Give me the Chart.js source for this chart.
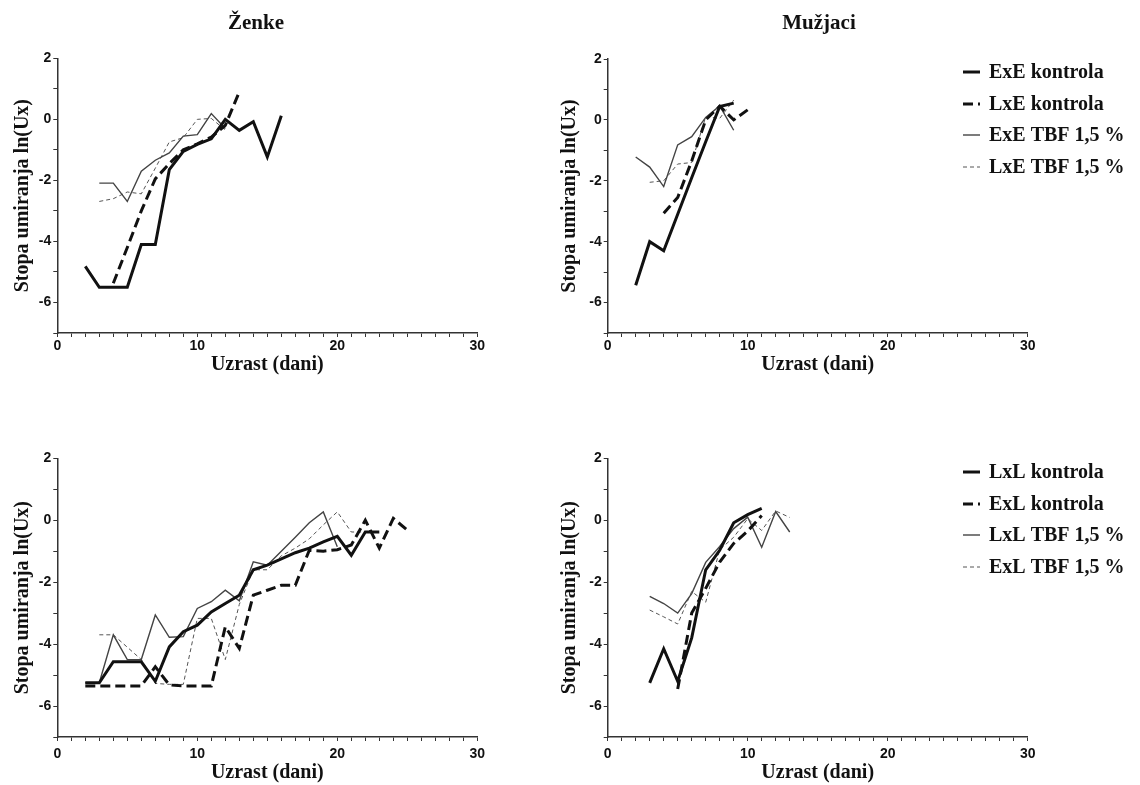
<!DOCTYPE html>
<html>
<head>
<meta charset="utf-8">
<script src="https://cdn.jsdelivr.net/npm/chart.js@4.4.1/dist/chart.umd.min.js"></script>
<style>
  body { margin: 0; background: #fff; }
  #wrap { position: relative; width: 1140px; height: 785px; }
  canvas { position: absolute; }
</style>
</head>
<body>
<div id="wrap">
  <canvas id="fTop" width="560" height="392" style="left:0;top:0"></canvas>
  <canvas id="mTop" width="580" height="392" style="left:560px;top:0"></canvas>
  <canvas id="fBot" width="560" height="393" style="left:0;top:392px"></canvas>
  <canvas id="mBot" width="580" height="393" style="left:560px;top:392px"></canvas>
</div>
<script>
// Ženke, gore (ExE / LxE)
const fTop_ExE_k_days = [2, 3, 4, 5, 6, 7, 8, 9, 10, 11, 12, 13, 14, 15, 16];
const fTop_ExE_k = [-4.82, -5.5, -5.5, -5.5, -4.1, -4.1, -1.65, -1.05, -0.82, -0.64, 0.0, -0.36, -0.08, -1.23, 0.12];
const fTop_LxE_k_days = [4, 5, 6, 7, 8, 9, 10, 11, 12, 13];
const fTop_LxE_k = [-5.37, -4.2, -3.0, -1.95, -1.45, -1.0, -0.8, -0.58, -0.2, 0.9];
const fTop_ExE_tbf_days = [3, 4, 5, 6, 7, 8, 9, 10, 11, 12];
const fTop_ExE_tbf = [-2.09, -2.09, -2.69, -1.7, -1.34, -1.1, -0.55, -0.5, 0.19, -0.3];
const fTop_LxE_tbf_days = [3, 4, 5, 6, 7, 8, 9, 10, 11, 12];
const fTop_LxE_tbf = [-2.69, -2.6, -2.38, -2.44, -1.6, -0.74, -0.6, 0.0, 0.03, -0.35];

// Mužjaci, gore
const mTop_ExE_k_days = [2, 3, 4, 5, 6, 7, 8, 9];
const mTop_ExE_k = [-5.43, -4.0, -4.3, -3.1, -1.9, -0.72, 0.44, 0.55];
const mTop_LxE_k_days = [4, 5, 6, 7, 8, 9, 10];
const mTop_LxE_k = [-3.07, -2.55, -1.35, 0.0, 0.45, 0.0, 0.33];
const mTop_ExE_tbf_days = [2, 3, 4, 5, 6, 7, 8, 9];
const mTop_ExE_tbf = [-1.22, -1.55, -2.19, -0.82, -0.55, 0.08, 0.46, -0.34];
const mTop_LxE_tbf_days = [3, 4, 5, 6, 7, 8, 9];
const mTop_LxE_tbf = [-2.05, -2.0, -1.45, -1.4, 0.1, 0.05, 0.65];

// Ženke, dole (LxL / ExL)
const fBot_LxL_k_days = [2, 3, 4, 5, 6, 7, 8, 9, 10, 11, 12, 13, 14, 15, 16, 17, 18, 19, 20, 21, 22, 23];
const fBot_LxL_k = [-5.25, -5.25, -4.57, -4.57, -4.57, -5.2, -4.09, -3.6, -3.39, -2.96, -2.69, -2.42, -1.6, -1.45, -1.25, -1.05, -0.9, -0.7, -0.52, -1.13, -0.38, -0.38];
const fBot_ExL_k_days = [2, 3, 4, 5, 6, 7, 8, 9, 10, 11, 12, 13, 14, 15, 16, 17, 18, 19, 20, 21, 22, 23, 24, 25];
const fBot_ExL_k = [-5.35, -5.35, -5.35, -5.35, -5.35, -4.73, -5.32, -5.35, -5.35, -5.35, -3.44, -4.14, -2.42, -2.26, -2.1, -2.1, -0.97, -1.0, -0.95, -0.8, 0.0, -0.9, 0.06, -0.32];
const fBot_LxL_tbf_days = [2, 3, 4, 5, 6, 7, 8, 9, 10, 11, 12, 13, 14, 15, 16, 17, 18, 19, 20];
const fBot_LxL_tbf = [-5.25, -5.25, -3.7, -4.5, -4.5, -3.06, -3.78, -3.76, -2.85, -2.63, -2.26, -2.6, -1.34, -1.45, -1.0, -0.55, -0.08, 0.27, -0.86];
const fBot_ExL_tbf_days = [3, 4, 5, 6, 7, 8, 9, 10, 11, 12, 13, 14, 15, 16, 17, 18, 19, 20, 21, 22];
const fBot_ExL_tbf = [-3.7, -3.7, -4.1, -4.5, -5.27, -5.3, -5.3, -3.17, -3.17, -4.5, -2.72, -1.6, -1.6, -1.15, -0.9, -0.6, -0.15, 0.27, -0.38, -0.38];

// Mužjaci, dole
const mBot_LxL_k_days = [3, 4, 5, 6, 7, 8, 9, 10, 11];
const mBot_LxL_k = [-5.25, -4.15, -5.2, -3.8, -1.6, -0.97, -0.08, 0.18, 0.38];
const mBot_ExL_k_days = [5, 6, 7, 8, 9, 10, 11];
const mBot_ExL_k = [-5.45, -3.0, -2.2, -1.35, -0.75, -0.35, 0.15];
const mBot_LxL_tbf_days = [3, 4, 5, 6, 7, 8, 9, 10, 11, 12, 13];
const mBot_LxL_tbf = [-2.46, -2.69, -3.0, -2.37, -1.36, -0.85, -0.27, 0.1, -0.87, 0.28, -0.38];
const mBot_ExL_tbf_days = [3, 4, 5, 6, 7, 8, 9, 10, 11, 12, 13];
const mBot_ExL_tbf = [-2.9, -3.12, -3.35, -2.3, -2.65, -0.95, -0.55, 0.05, -0.33, 0.3, 0.09];

const topLabels = ["ExE kontrola", "LxE kontrola", "ExE TBF 1,5 %", "LxE TBF 1,5 %"];
const botLabels = ["LxL kontrola", "ExL kontrola", "LxL TBF 1,5 %", "ExL TBF 1,5 %"];

const serif = '"Liberation Serif", "Times New Roman", serif';
const sans = '"Liberation Sans", Arial, sans-serif';

// same four line looks in every panel
const looks = [
  { borderColor: "#111", borderWidth: 3, borderDash: [] },
  { borderColor: "#111", borderWidth: 3, borderDash: [10, 5] },
  { borderColor: "#444", borderWidth: 1.4, borderDash: [] },
  { borderColor: "#555", borderWidth: 1, borderDash: [4, 3] },
];

function pts(days, vals) {
  return days.map((d, i) => ({ x: d, y: vals[i] }));
}

function makeSets(labels, series) {
  return series.map((s, i) => ({
    label: labels[i],
    data: pts(s[0], s[1]),
    ...looks[i],
    backgroundColor: "transparent",
    pointRadius: 0,
    tension: 0,
    fill: false,
  }));
}

// title + legend drawn on top of the chart
const decor = {
  id: "decor",
  afterDraw(chart, args, o) {
    const ctx = chart.ctx;
    ctx.save();
    ctx.fillStyle = "#111";
    ctx.textBaseline = "middle";
    if (o.title) {
      ctx.font = "bold 21px " + serif;
      ctx.textAlign = "center";
      ctx.fillText(o.title, o.titleX, o.titleY);
    }
    if (o.legend) {
      ctx.font = "bold 20px " + serif;
      ctx.textAlign = "left";
      chart.data.datasets.forEach((ds, i) => {
        const y = o.legendY[i];
        ctx.strokeStyle = ds.borderColor;
        ctx.lineWidth = ds.borderWidth;
        ctx.setLineDash(ds.borderDash);
        ctx.beginPath();
        ctx.moveTo(o.legendX, y);
        ctx.lineTo(o.legendX + 17, y);
        ctx.stroke();
        ctx.setLineDash([]);
        ctx.fillText(ds.label, o.legendX + 26, y + 1);
      });
    }
    ctx.restore();
  },
};

function makePanel(id, labels, series, p) {
  new Chart(document.getElementById(id), {
    type: "line",
    data: { datasets: makeSets(labels, series) },
    plugins: [decor],
    options: {
      responsive: false,
      animation: false,
      layout: { padding: { left: 0, right: p.padR, top: p.padT, bottom: 0 } },
      plugins: {
        legend: { display: false },
        tooltip: { enabled: false },
        decor: p.decor,
      },
      scales: {
        x: {
          type: "linear",
          min: 0,
          max: 30,
          afterFit: (s) => { s.height = p.xH; },
          border: { color: "#333", width: 1.5 },
          grid: { drawOnChartArea: false, tickLength: 4, tickColor: "#333" },
          ticks: {
            stepSize: 1,
            autoSkip: false,
            maxRotation: 0,
            padding: p.xPad,
            color: "#111",
            font: { family: sans, weight: "bold", size: 14 },
            callback: (v) => (v % 10 === 0 ? v : ""),
          },
          title: {
            display: true,
            text: "Uzrast (dani)",
            color: "#111",
            font: { family: serif, weight: "bold", size: 20, lineHeight: 1 },
            padding: { top: 0, bottom: p.xTitlePad },
          },
        },
        y: {
          min: -7,
          max: 2,
          afterFit: (s) => { s.width = p.yW; },
          border: { color: "#333", width: 1.5 },
          grid: { drawOnChartArea: false, tickLength: 4, tickColor: "#333" },
          ticks: {
            stepSize: 1,
            autoSkip: false,
            padding: 2,
            color: "#111",
            font: { family: sans, weight: "bold", size: 14 },
            callback: (v) => (v % 2 === 0 ? v : ""),
          },
          title: {
            display: true,
            text: "Stopa umiranja ln(Ux)",
            color: "#111",
            font: { family: serif, weight: "bold", size: 20, lineHeight: 1 },
            padding: { top: p.yTitlePad, bottom: 0 },
          },
        },
      },
    },
  });
}

makePanel("fTop", topLabels, [
  [fTop_ExE_k_days, fTop_ExE_k],
  [fTop_LxE_k_days, fTop_LxE_k],
  [fTop_ExE_tbf_days, fTop_ExE_tbf],
  [fTop_LxE_tbf_days, fTop_LxE_tbf],
], { padR: 82.7, padT: 58.3, xH: 59, yW: 57.3, xPad: 1, xTitlePad: 17, yTitlePad: 13,
     decor: { title: "Ženke", titleX: 256, titleY: 24 } });

makePanel("mTop", topLabels, [
  [mTop_ExE_k_days, mTop_ExE_k],
  [mTop_LxE_k_days, mTop_LxE_k],
  [mTop_ExE_tbf_days, mTop_ExE_tbf],
  [mTop_LxE_tbf_days, mTop_LxE_tbf],
], { padR: 112.3, padT: 59, xH: 59, yW: 47.7, xPad: 1, xTitlePad: 17, yTitlePad: 0,
     decor: { title: "Mužjaci", titleX: 259, titleY: 24, legend: true, legendX: 403, legendY: [72, 104, 135, 167] } });

makePanel("fBot", botLabels, [
  [fBot_LxL_k_days, fBot_LxL_k],
  [fBot_ExL_k_days, fBot_ExL_k],
  [fBot_LxL_tbf_days, fBot_LxL_tbf],
  [fBot_ExL_tbf_days, fBot_ExL_tbf],
], { padR: 82.7, padT: 66.3, xH: 48, yW: 57.3, xPad: 5, xTitlePad: 2, yTitlePad: 12.5,
     decor: {} });

makePanel("mBot", botLabels, [
  [mBot_LxL_k_days, mBot_LxL_k],
  [mBot_ExL_k_days, mBot_ExL_k],
  [mBot_LxL_tbf_days, mBot_LxL_tbf],
  [mBot_ExL_tbf_days, mBot_ExL_tbf],
], { padR: 112.3, padT: 66.3, xH: 48, yW: 47.7, xPad: 5, xTitlePad: 2, yTitlePad: 0,
     decor: { legend: true, legendX: 403, legendY: [80, 112, 143, 175] } });
</script>
</body>
</html>
